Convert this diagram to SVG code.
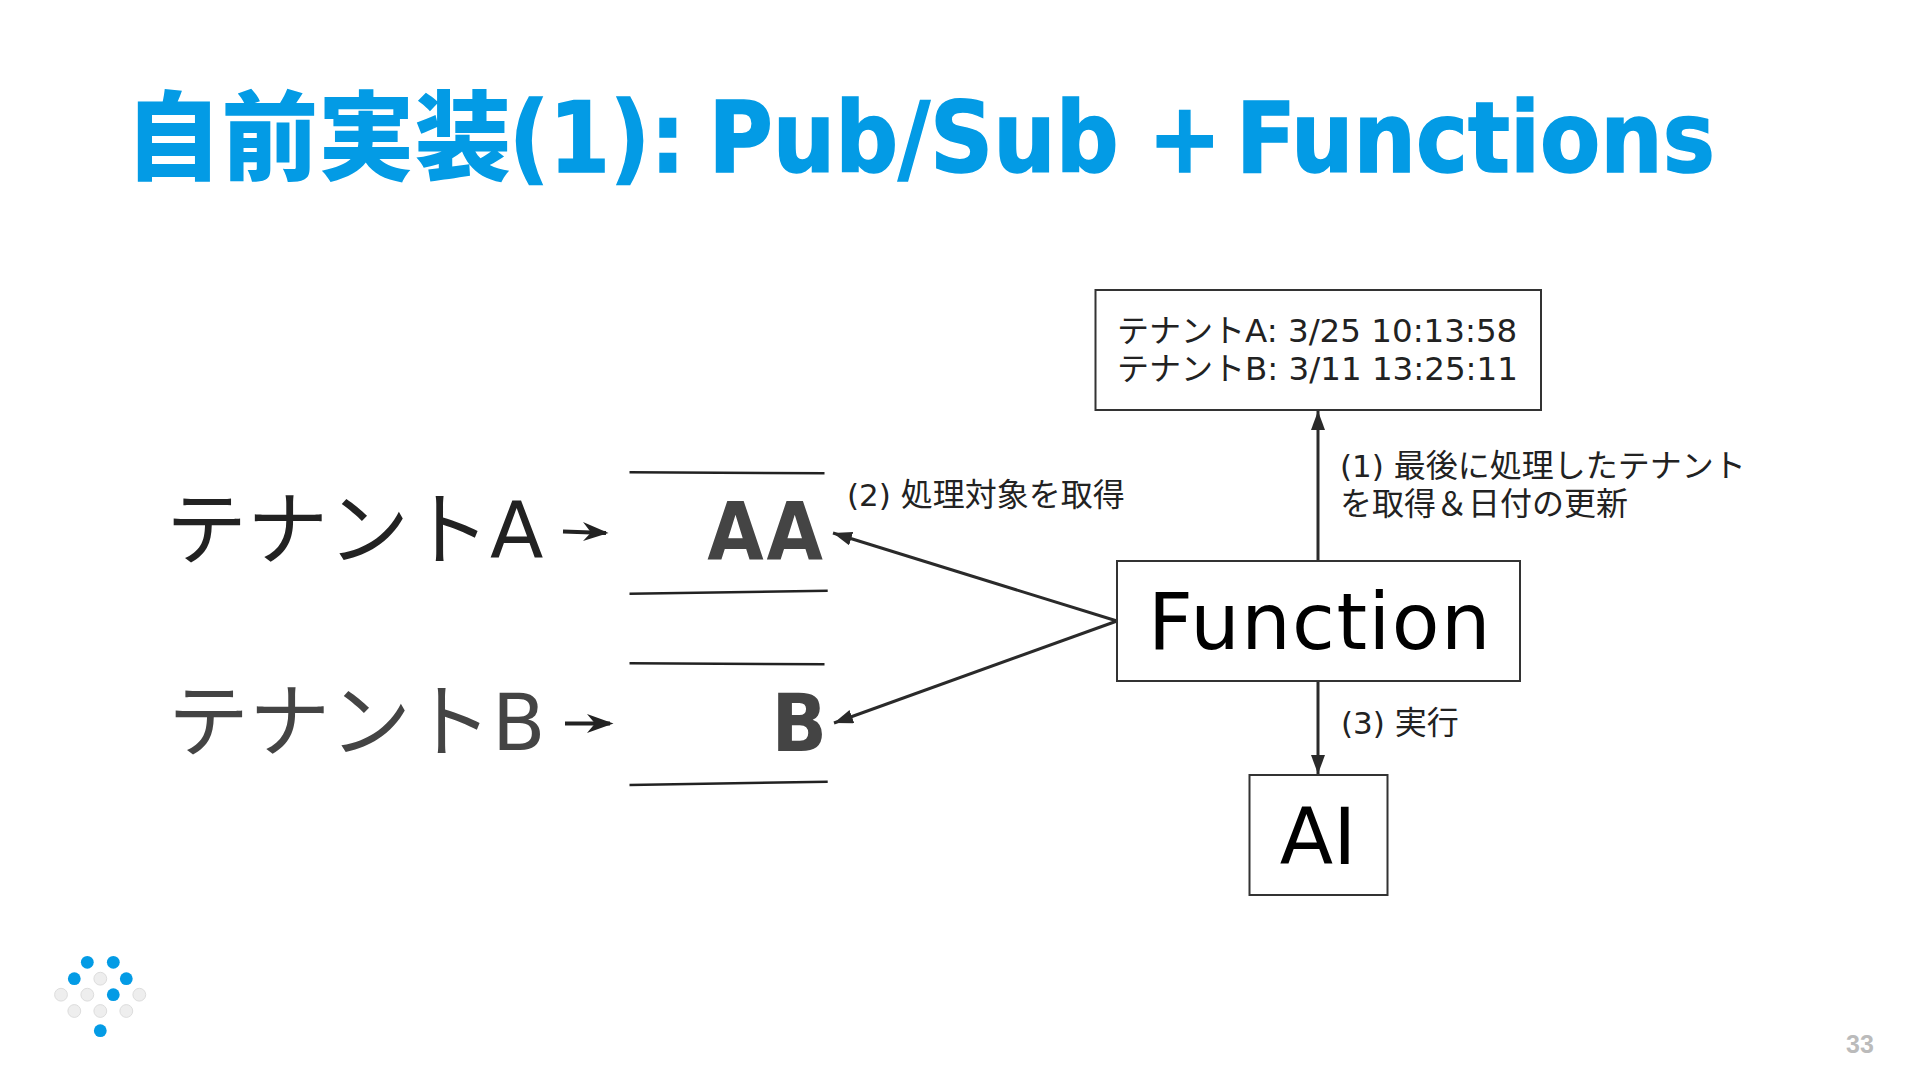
<svg xmlns="http://www.w3.org/2000/svg" width="1920" height="1080" viewBox="0 0 1920 1080">
<style>
text{font-family:"DejaVu Sans","Noto Sans CJK JP",sans-serif}
.j{font-family:"Noto Sans CJK JP",sans-serif}
.title{font-size:97.5px;font-weight:700;fill:#039be5;font-stretch:condensed;stroke:#039be5;stroke-width:1.5}
.title .j{font-size:96.5px;font-weight:900;font-stretch:normal;stroke:none}
.big{font-size:78px}
.big .j{font-size:81px}
.bold{font-size:81px;font-weight:700;fill:#444;text-anchor:end;font-stretch:condensed}
.box{font-size:32.5px;fill:#222}
.box .j{font-size:32px}
.lab{font-size:31px;fill:#222}
.lab .j{font-size:32px}
.node{font-size:78px;fill:#000;text-anchor:middle}
.r{fill:#fff;stroke:#333;stroke-width:2}
.c{fill:none;stroke:#2a2a2a;stroke-width:3}
.q{stroke:#222;stroke-width:2.5;fill:none}
.bl{fill:#039be5}
.gr{fill:#eee;stroke:#ddd;stroke-width:1}
</style>
<defs>
<marker id="ah" markerUnits="userSpaceOnUse" markerWidth="20" markerHeight="16" refX="19" refY="7" orient="auto"><path d="M0 0L19 7L0 14Z" fill="#2a2a2a"/></marker>
</defs>
<rect width="1920" height="1080" fill="#fff"/>
<text class="title" x="125" y="172"><tspan class="j">自前実装</tspan><tspan x="509">(1):</tspan><tspan x="708.5">Pub/Sub</tspan><tspan x="1148">+</tspan><tspan x="1236">Functions</tspan></text>
<g id="connectors">
<line class="c" x1="1318" y1="560" x2="1318" y2="411" marker-end="url(#ah)"/>
<line class="c" x1="1318" y1="682" x2="1318" y2="774" marker-end="url(#ah)"/>
<line class="c" x1="1117" y1="621" x2="833" y2="533" marker-end="url(#ah)"/>
<line class="c" x1="1117" y1="621" x2="834" y2="723" marker-end="url(#ah)"/>
</g>
<g id="tenantA">
<text class="big" x="166" y="558" fill="#222"><tspan class="j">テナント</tspan>A</text>
<path d="M563 531.5L606 533" stroke="#222" stroke-width="4" fill="none"/>
<path d="M608.5 533L583 522L591 532.5L583 541Z" fill="#222"/>
</g>
<g id="tenantB">
<text class="big" x="168" y="750" fill="#444"><tspan class="j">テナント</tspan>B</text>
<path d="M565 723.5L610 723.5" stroke="#222" stroke-width="4" fill="none"/>
<path d="M613.5 723.5L587 714L595 723.5L587 733Z" fill="#222"/>
</g>
<g id="queueA">
<line class="q" x1="629.5" y1="472.3" x2="824.5" y2="473.3"/>
<line class="q" x1="629.5" y1="593.7" x2="827.7" y2="590.7"/>
<text class="bold" x="826" y="560" letter-spacing="3">AA</text>
</g>
<g id="queueB">
<line class="q" x1="629.5" y1="663.3" x2="824.5" y2="664.3"/>
<line class="q" x1="629.5" y1="785" x2="827.7" y2="781.7"/>
<text class="bold" x="827" y="751">B</text>
</g>
<g id="store">
<rect class="r" x="1095.5" y="290" width="445.5" height="120"/>
<text class="box" x="1117" y="342"><tspan class="j">テナント</tspan>A: 3/25 10:13:58</text>
<text class="box" x="1117" y="380"><tspan class="j">テナント</tspan>B: 3/11 13:25:11</text>
</g>
<g id="function">
<rect class="r" x="1117" y="561" width="403" height="120"/>
<text class="node" x="1320" y="649" letter-spacing="1.5">Function</text>
</g>
<g id="ai">
<rect class="r" x="1249.5" y="775" width="138" height="120"/>
<text class="node" x="1318" y="864">AI</text>
</g>
<g id="labels">
<text class="lab" x="847" y="506">(2) <tspan class="j">処理対象を取得</tspan></text>
<text class="lab" x="1340" y="477">(1) <tspan class="j">最後に処理したテナント</tspan></text>
<text class="lab" x="1340" y="515"><tspan class="j">を取得＆日付の更新</tspan></text>
<text class="lab" x="1341" y="734">(3) <tspan class="j">実行</tspan></text>
</g>
<g id="logo">
<circle class="bl" cx="87.3" cy="962.3" r="6.4"/><circle class="bl" cx="113.3" cy="962.3" r="6.4"/>
<circle class="bl" cx="74.3" cy="978.7" r="6.4"/><circle class="gr" cx="100.3" cy="978.7" r="6.4"/><circle class="bl" cx="126.3" cy="978.7" r="6.4"/>
<circle class="gr" cx="61" cy="994.7" r="6.4"/><circle class="gr" cx="87.3" cy="994.7" r="6.4"/><circle class="bl" cx="113.3" cy="994.7" r="6.4"/><circle class="gr" cx="139.3" cy="994.7" r="6.4"/>
<circle class="gr" cx="74.3" cy="1011" r="6.4"/><circle class="gr" cx="100.3" cy="1011" r="6.4"/><circle class="gr" cx="126.3" cy="1011" r="6.4"/>
<circle class="bl" cx="100.3" cy="1030.7" r="6.4"/>
</g>
<text x="1846" y="1052.5" style="font-family:'Liberation Sans',sans-serif;font-size:25px;font-weight:700;fill:#bbb">33</text>
</svg>
